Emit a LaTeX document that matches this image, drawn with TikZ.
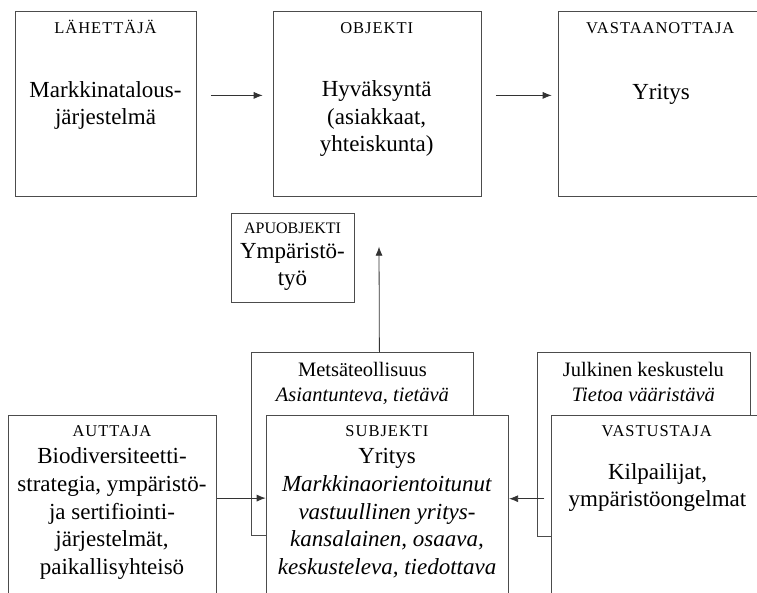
\documentclass[tikz,border=0pt]{standalone}
\usepackage{fontspec}
\setmainfont{Liberation Serif}
\newfontfamily\hdfont[LetterSpace=6]{Liberation Serif}
\usetikzlibrary{arrows.meta}
\begin{document}
\begin{tikzpicture}[x=1pt,y=-1pt,
  box/.style={draw=black!70, line width=0.8pt, fill=white, anchor=north west, inner sep=0pt},
  hd/.style={font=\hdfont\fontsize{16.5}{20}\selectfont, anchor=base, inner sep=0pt},
  hdn/.style={font=\fontsize{16}{20}\selectfont, anchor=base, inner sep=0pt},
  big/.style={font=\fontsize{23}{27.6}\selectfont, align=center, anchor=base, inner sep=0pt},
  mid/.style={font=\fontsize{20.5}{24.3}\selectfont, align=center, anchor=base, inner sep=0pt},
  arr/.style={draw=black!80, line width=0.8pt, -{Latex[length=9pt,width=7pt]}}]
\clip (0,0) rectangle (757,593);
\fill[white] (0,0) rectangle (757,593);

% top row
\node[box, minimum width=181pt, minimum height=185pt] (send) at (15,11) {};
\node[box, minimum width=208pt, minimum height=185pt] (obj) at (272.7,11) {};
\node[box, minimum width=205pt, minimum height=185pt] (recv) at (557.7,11) {};
\node[hd] (sendh) at (105.5,34) {LÄHETTÄJÄ};
\node[big] (sendt) at (105.5,125) {Markkinatalous-\\järjestelmä};
\node[hd] (objh) at (376.7,34) {OBJEKTI};
\node[big] (objt) at (376.7,151.7) {Hyväksyntä\\(asiakkaat,\\yhteiskunta)};
\node[hd] (recvh) at (660.3,34) {VASTAANOTTAJA};
\node[big] (recvt) at (661,100) {Yritys};

\draw[arr] ([shift={(14pt,8.5pt)}]send.east) -- ([shift={(-10pt,8.5pt)}]obj.west);
\draw[arr] ([shift={(14.3pt,8.5pt)}]obj.east) -- ([shift={(-6pt,8.5pt)}]recv.west);

% apuobjekti
\node[box, minimum width=123.6pt, minimum height=89pt] (apu) at (230.7,212.7) {};
\node[hdn] (apuh) at (292.5,233.3) {APUOBJEKTI};
\node[big] (aput) at (292.5,286) {Ympäristö-\\työ};

% background boxes
\node[box, minimum width=222pt, minimum height=183pt] (mets) at (251.3,352.3) {};
\node[mid] (metst) at (362.4,401) {Metsäteollisuus\\\textit{Asiantunteva, tietävä}};
\node[box, minimum width=213.6pt, minimum height=183.7pt] (julk) at (536.7,352.3) {};
\node[mid] (julkt) at (643.4,401) {Julkinen keskustelu\\\textit{Tietoa vääristävä}};

\coordinate (apuarr) at (379,246.7);
\draw[arr] ([xshift=16.7pt]mets.north) -- (apuarr);

% bottom row
\node[box, minimum width=207.7pt, minimum height=200pt] (aut) at (8.3,414.7) {};
\node[box, minimum width=242.6pt, minimum height=200pt] (subj) at (265.7,414.7) {};
\node[box, minimum width=212pt, minimum height=200pt] (vast) at (551,414.7) {};

\node[hd] (auth) at (112,436.7) {AUTTAJA};
\node[big] (autt) at (112,574.3) {Biodiversiteetti-\\strategia, ympäristö-\\ja sertifiointi-\\järjestelmät,\\paikallisyhteisö};
\node[hd] (subjh) at (387,436.7) {SUBJEKTI};
\node[big] (subjt) at (387,574.3) {Yritys\\\textit{Markkinaorientoitunut}\\\textit{vastuullinen yritys-}\\\textit{kansalainen, osaava,}\\\textit{keskusteleva, tiedottava}};
\node[hd] (vasth) at (656.7,436.7) {VASTUSTAJA};
\node[big] (vastt) at (657.5,506.7) {Kilpailijat,\\ympäristöongelmat};

\draw[arr] ([yshift=17pt]aut.east) -- ([yshift=17pt]subj.west);
\draw[arr] ([shift={(-6.7pt,16.4pt)}]vast.west) -- ([yshift=16.4pt]subj.east);
\end{tikzpicture}
\end{document}
